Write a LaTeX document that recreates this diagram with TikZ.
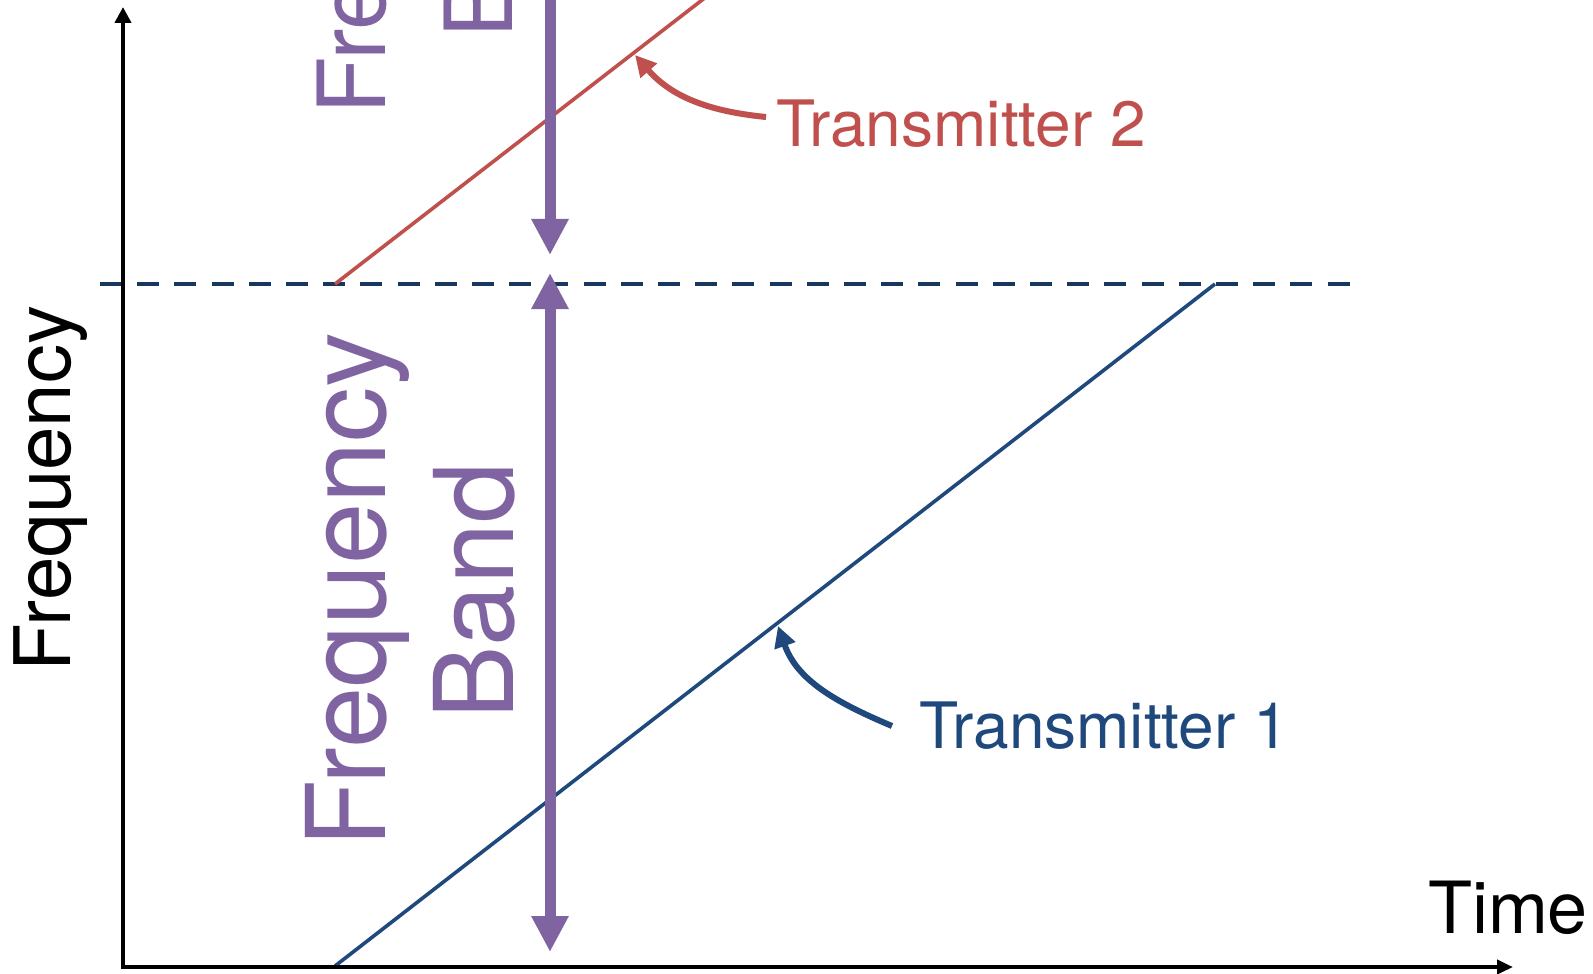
\documentclass[tikz,border=0pt]{standalone}
\usepackage{fontspec}
\setmainfont{TeX Gyre Heros}
\usetikzlibrary{arrows.meta}
\definecolor{tred}{HTML}{C0504D}
\definecolor{tblue}{HTML}{1F497D}
\definecolor{tdash}{HTML}{17375E}
\definecolor{tpurple}{HTML}{8064A2}
\begin{document}
\begin{tikzpicture}[x=0.5pt,y=-0.5pt,
  axisline/.style={line width=2pt,{Triangle[length=8pt,width=8pt]}-{Triangle[length=8pt,width=7pt]}},
  bandarrow/.style={tpurple,line width=5.5pt},
  chirp/.style={line width=1.8pt},
  pointer/.style={line width=3pt,-{Triangle[length=10.5pt,width=10.5pt]}},
  lbl/.style={inner sep=0pt,outer sep=0pt},
  bandfont/.style={font=\fontsize{55}{66}\selectfont,text=tpurple},
  bandfontsmall/.style={font=\fontsize{47}{56}\selectfont,text=tpurple},
  trfont/.style={font=\fontsize{32}{38}\selectfont}]
\clip (0,0) rectangle (1593,973);
\fill[white] (0,0) rectangle (1593,973);

% coordinates
\coordinate (O) at (123,967);
\coordinate (ytop) at (123,7);
\coordinate (xend) at (1513,967);
\coordinate (dl) at (100,284);
\coordinate (dr) at (1352,284);
\coordinate (b0) at (335,966);
\coordinate (b1) at (1215,284);
\coordinate (r0) at (335,284);
\coordinate (r1) at (715,-10);
\coordinate (utop) at (550,-20);
\coordinate (utip) at (550,255);
\coordinate (ltop) at (550,273);
\coordinate (lbot) at (550,952);
\coordinate (t2s) at (766,117);
\coordinate (t2e) at (635,55);
\coordinate (t1s) at (892,726);
\coordinate (t1e) at (778,626);

% labels
\node[lbl,rotate=90,anchor=base west,font=\fontsize{39}{46}\selectfont] (freq) at (70,671) {Frequency};
\node[lbl,anchor=base west,font=\fontsize{36}{44}\selectfont] (time) at (1428,933) {Time};
\node[lbl,rotate=90,anchor=base,bandfont] (fb1) at (385,590) {Frequency};
\node[lbl,rotate=90,anchor=base,bandfont] (fb2) at (513,591) {Band};
\node[lbl,rotate=90,anchor=base west,bandfontsmall] (fu1) at (385,115) {Frequency};
\node[lbl,rotate=90,anchor=base west,bandfontsmall] (fu2) at (512,38) {Band};
\node[lbl,anchor=base west,trfont,text=tred] (tx2) at (776,147) {Transmitter 2};
\node[lbl,anchor=base west,trfont,text=tblue] (tx1) at (919,748) {Transmitter 1};

% dashed threshold
\draw[tdash,line width=2.3pt,dash pattern=on 11pt off 7.6pt] (dl) -- (dr);

% chirps
\draw[chirp,tred] (r0) -- (r1);
\draw[chirp,tblue] (b0) -- (b1);

% band arrows
\draw[bandarrow,-{Triangle[length=18pt,width=17.5pt]}] (utop) -- (utip);
\draw[bandarrow,{Triangle[length=18pt,width=17.5pt]}-{Triangle[length=18pt,width=17.5pt]}] (ltop) -- (lbot);

% axes
\draw[axisline] (ytop) -- (O) -- (xend);

% pointers
\draw[pointer,tred] (t2s) .. controls (705,111) and (670,95) .. (t2e);
\draw[pointer,tblue] (t1s) .. controls (835,702) and (797,680) .. (t1e);
\end{tikzpicture}
\end{document}
